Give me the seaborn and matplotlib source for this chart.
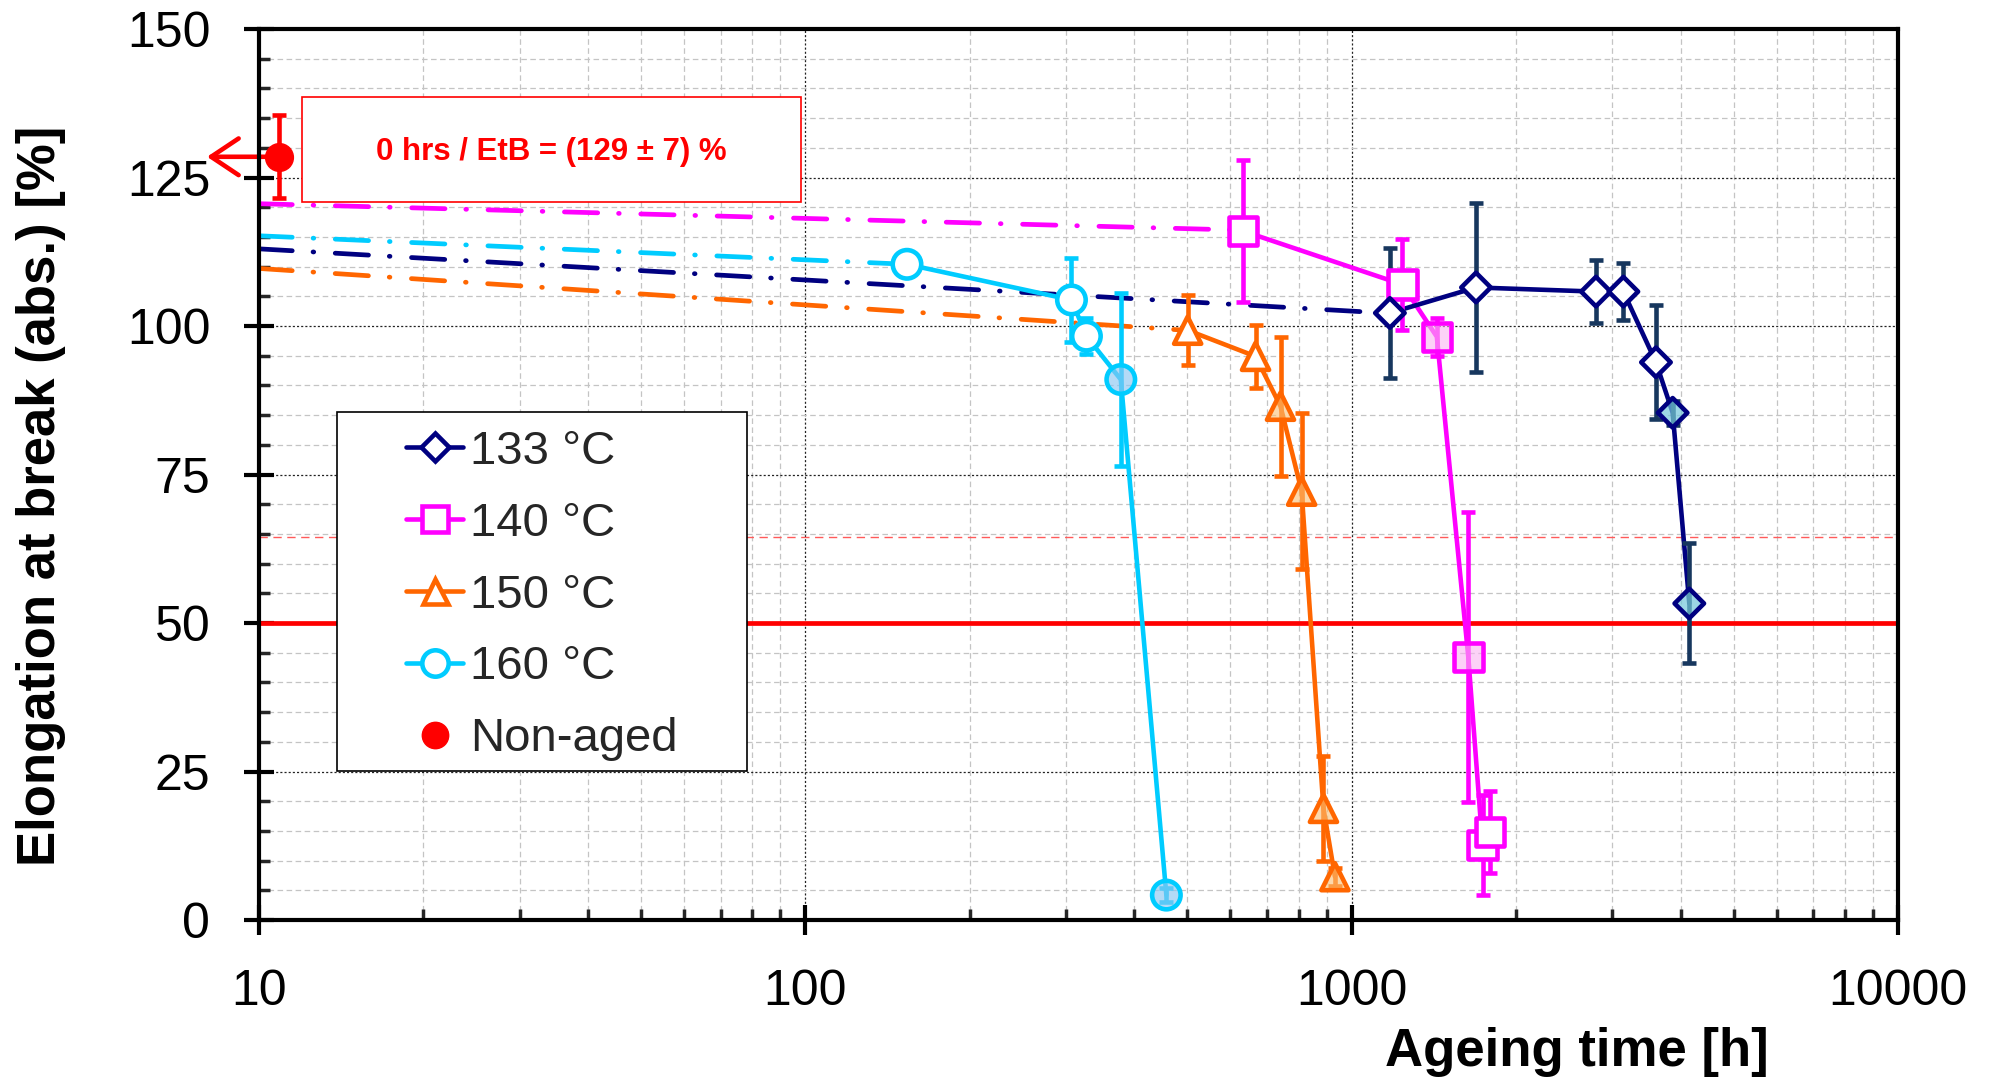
import numpy as np
import pandas as pd
import matplotlib
matplotlib.use("Agg")
import matplotlib.pyplot as plt
import seaborn as sns
from matplotlib.lines import Line2D
from matplotlib.patches import Rectangle
from matplotlib.ticker import MultipleLocator, LogLocator, NullFormatter, FixedLocator, FixedFormatter

# ---------------- data ----------------
t133 = [1175, 1689, 2800, 3143, 3606, 3869, 4150]
v133 = [102.2, 106.5, 105.8, 105.8, 93.9, 85.4, 53.3]
e133 = [11.0, 14.2, 5.3, 4.8, 9.6, 2.0, 10.1]
f133 = [False, False, False, False, False, True, True]

t140 = [633, 1238, 1432, 1635, 1736, 1793]
v140 = [116.0, 107.0, 98.2, 44.3, 12.6, 14.8]
e140 = [12.0, 7.7, 3.2, 24.4, 8.4, 6.9]
f140 = [False, False, True, True, False, False]

t150 = [501, 667, 741, 810, 888, 932]
v150 = [99.3, 94.9, 86.5, 72.2, 18.8, 7.3]
e150 = [5.9, 5.3, 11.7, 13.1, 8.8, 1.5]
f150 = [False, False, True, True, True, True]

t160 = [153.5, 307, 327, 378, 458]
v160 = [110.4, 104.4, 98.3, 91.0, 4.2]
e160 = [1.5, 7.0, 3.0, 14.5, 1.2]
f160 = [False, False, False, True, True]

t_nonaged = [10.9]
v_nonaged = [128.5]
e_nonaged = [7.0]

trend133_t = [10, 1100]
trend133_v = [113.0, 102.3]
trend140_t = [10, 600]
trend140_v = [120.6, 116.2]
trend150_t = [10, 495]
trend150_v = [109.7, 99.3]
trend160_t = [10, 145]
trend160_v = [115.2, 110.5]

limit_solid = 50
limit_dashed = 64.5

labels = ["133 °C", "140 °C", "150 °C", "160 °C", "Non-aged"]
xtick_vals = [10, 100, 1000, 10000]
xtick_labels = ["10", "100", "1000", "10000"]
annot_text = "0 hrs / EtB = (129 ± 7) %"

# ---------------- style ----------------
sns.set_theme(style="white")
plt.rcParams["font.family"] = ["Liberation Sans", "DejaVu Sans"]
plt.rcParams["lines.scale_dashes"] = False

NAVY = "#000080"
NAVY_ERR = "#17375e"
MAG = "#ff00ff"
ORA = "#ff6600"
CYA = "#00ccff"
RED = "#ff0000"

fig = plt.figure(figsize=(19.92, 10.81), dpi=100)
ax = fig.add_axes([0.1300, 0.1489, 0.8228, 0.8242])
ax.set_xscale("log")
ax.set_xlim(10, 10000)
ax.set_ylim(0, 150)

# grid
ax.set_axisbelow(True)
ax.xaxis.set_major_locator(FixedLocator(xtick_vals))
ax.xaxis.set_major_formatter(FixedFormatter(xtick_labels))
ax.xaxis.set_minor_locator(LogLocator(base=10, subs=np.arange(2, 10)))
ax.xaxis.set_minor_formatter(NullFormatter())
ax.yaxis.set_major_locator(MultipleLocator(25))
ax.yaxis.set_minor_locator(MultipleLocator(5))
ax.grid(which="minor", color="#c4c4c4", lw=0.9, ls=(0, (4, 2.5)), zorder=0)
ax.grid(which="major", color="#222222", lw=0.9, ls=(0, (1.5, 1.5)), zorder=0.5)

for sp in ax.spines.values():
    sp.set_color("black")
    sp.set_linewidth(3)
    sp.set_zorder(6)

ax.tick_params(axis="both", which="major", direction="inout", length=22, width=3,
               pad=24, labelsize=36, colors="black", bottom=True, left=True)
ax.tick_params(axis="both", which="minor", direction="in", length=8, width=2.5,
               bottom=True, left=True)

# limit lines
ax.axhline(limit_solid, color=RED, lw=3.4, zorder=1.5)
ax.axhline(limit_dashed, color="#ff5a5a", lw=1.0, ls=(0, (6, 4)), zorder=1.5)

dashdot = (0, (24, 15, 0.5, 15.5))
for tt, vv, c in [(trend140_t, trend140_v, MAG), (trend160_t, trend160_v, CYA),
                  (trend133_t, trend133_v, NAVY), (trend150_t, trend150_v, ORA)]:
    ax.plot(tt, vv, color=c, lw=3.4, ls=dashdot, dash_capstyle="round", zorder=2)


def draw(t, v, e, filled, color, ecolor, marker, ms, fill):
    df = pd.DataFrame({"t": t, "v": v})
    sns.lineplot(data=df, x="t", y="v", color=color, linewidth=3.3, ax=ax, estimator=None,
                 sort=False, legend=False, zorder=3)
    ax.errorbar(t, v, yerr=e, fmt="none", ecolor=ecolor, elinewidth=3.3, capsize=5,
                capthick=3.3, zorder=3.5)
    fcs = [fill if f else "white" for f in filled]
    ax.scatter(t, v, s=ms ** 2, marker=marker, facecolors=fcs, edgecolors=color,
               linewidths=3.3, zorder=4)


draw(t160, v160, e160, f160, CYA, CYA, "o", 20.5, (0.55, 0.78, 0.95, 0.65))
draw(t150, v150, e150, f150, ORA, ORA, "^", 19.5, (0.98, 0.75, 0.45, 0.6))
draw(t140, v140, e140, f140, MAG, MAG, "s", 20.5, (0.98, 0.70, 0.95, 0.6))
draw(t133, v133, e133, f133, NAVY, NAVY_ERR, "D", 15, (0.45, 0.78, 0.86, 0.7))

# non-aged point
ax.errorbar(t_nonaged, v_nonaged, yerr=e_nonaged, fmt="o", color=RED, ms=20,
            elinewidth=3.3, capsize=5, capthick=3.3, zorder=4, clip_on=False)
ax.annotate("", xy=(-0.0317, v_nonaged[0]), xycoords=("axes fraction", "data"),
            xytext=(t_nonaged[0], v_nonaged[0]), textcoords="data",
            arrowprops=dict(arrowstyle="->,head_length=0.9,head_width=0.6", color=RED,
                            lw=3.3, mutation_scale=22, shrinkA=0, shrinkB=0),
            annotation_clip=False, zorder=4)

# annotation box
ax.add_patch(Rectangle((0.0262, 0.8058), 0.3045, 0.1179, transform=ax.transAxes,
                       facecolor="white", edgecolor=RED, lw=1.2, zorder=5))
ax.text(0.1782, 0.862, annot_text, transform=ax.transAxes, ha="center", va="center",
        color=RED, fontsize=22.5, fontweight="bold", zorder=6)

# legend
ax.add_patch(Rectangle((0.0476, 0.1672), 0.2502, 0.4029, transform=ax.transAxes,
                       facecolor="white", edgecolor="black", lw=1.2, zorder=5))
handles = [
    Line2D([], [], color=NAVY, lw=3.3, marker="D", ms=14, mfc="white", mec=NAVY, mew=3.3),
    Line2D([], [], color=MAG, lw=3.3, marker="s", ms=19, mfc="white", mec=MAG, mew=3.3),
    Line2D([], [], color=ORA, lw=3.3, marker="^", ms=18, mfc="white", mec=ORA, mew=3.3),
    Line2D([], [], color=CYA, lw=3.3, marker="o", ms=19, mfc="white", mec=CYA, mew=3.3),
    Line2D([], [], color=RED, lw=0, marker="o", ms=19, mfc=RED, mec=RED),
]
leg = ax.legend(handles, labels, loc="center", bbox_to_anchor=(0.1727, 0.3642),
                frameon=False, fontsize=34, handlelength=1.2, handletextpad=0.15,
                labelspacing=0.59, borderpad=0)
leg.set_zorder(7)

# axis labels
ax.set_xlabel("Ageing time [h]", fontsize=38, fontweight="bold", color="black")
ax.xaxis.label.set_va("center")
ax.xaxis.set_label_coords(0.804, -0.148)
ax.set_ylabel("Elongation at break (abs.) [%]", fontsize=38, fontweight="bold", color="black")
ax.yaxis.set_label_coords(-0.1178, 0.476)

fig.savefig("out.png", dpi=100)
